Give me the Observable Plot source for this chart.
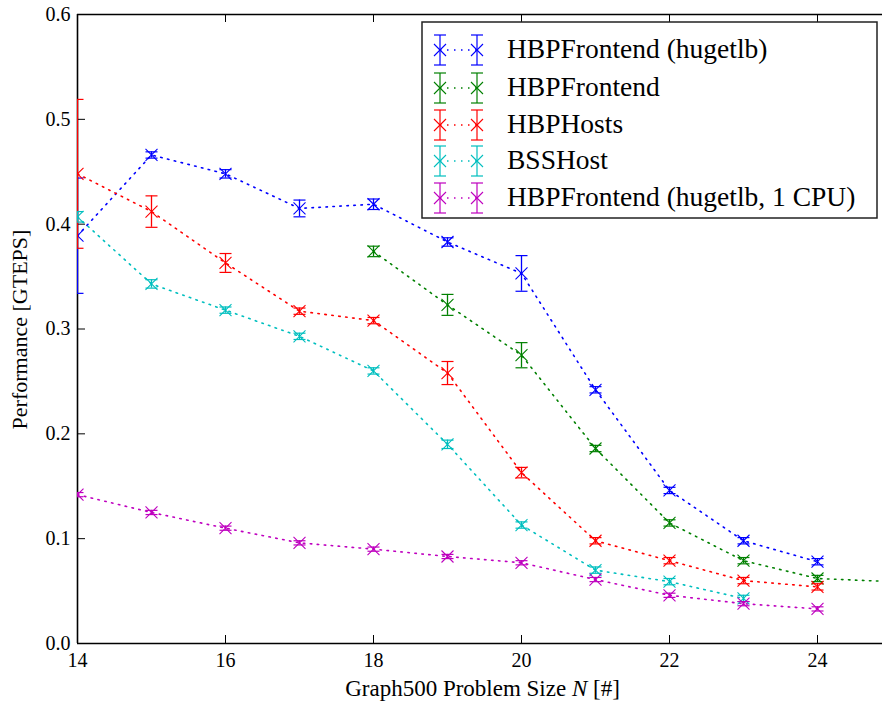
<!DOCTYPE html>
<html><head><meta charset="utf-8">
<script src="https://cdn.jsdelivr.net/npm/d3@7"></script>
<script src="https://cdn.jsdelivr.net/npm/@observablehq/plot@0.6"></script>
<style>body{margin:0;background:#fff} svg{font-family:"Liberation Serif","DejaVu Serif",serif}</style>
</head><body><div id="chart"></div>
<script>
const seriesNames = ["HBPFrontend (hugetlb)", "HBPFrontend", "HBPHosts", "BSSHost", "HBPFrontend (hugetlb, 1 CPU)"];
const seriesColors = ["#0000ff", "#008000", "#ff0000", "#00bfbf", "#bf00bf"];
const xTicks = [14, 16, 18, 20, 22, 24];
const yTicks = [0, 0.1, 0.2, 0.3, 0.4, 0.5, 0.6];

const hugetlbX = [14, 15, 16, 17, 18, 19, 20, 21, 22, 23, 24];
const hugetlbY = [0.389, 0.466, 0.448, 0.415, 0.419, 0.383, 0.353, 0.242, 0.146, 0.098, 0.078];
const hugetlbErr = [0.055, 0.003, 0.004, 0.008, 0.005, 0.004, 0.017, 0.003, 0.003, 0.003, 0.003];

const frontendX = [18, 19, 20, 21, 22, 23, 24, 25];
const frontendY = [0.374, 0.323, 0.275, 0.186, 0.115, 0.079, 0.062, 0.059];
const frontendErr = [0.005, 0.010, 0.012, 0.003, 0.003, 0.003, 0.003, 0.002];

const hostsX = [14, 15, 16, 17, 18, 19, 20, 21, 22, 23, 24];
const hostsY = [0.448, 0.412, 0.363, 0.317, 0.308, 0.258, 0.163, 0.098, 0.079, 0.060, 0.054];
const hostsErr = [0.071, 0.015, 0.009, 0.003, 0.003, 0.011, 0.005, 0.003, 0.003, 0.003, 0.003];

const bssX = [14, 15, 16, 17, 18, 19, 20, 21, 22, 23];
const bssY = [0.407, 0.343, 0.318, 0.293, 0.260, 0.190, 0.113, 0.070, 0.059, 0.043];
const bssErr = [0.005, 0.004, 0.003, 0.003, 0.003, 0.004, 0.003, 0.003, 0.003, 0.003];

const cpu1X = [14, 15, 16, 17, 18, 19, 20, 21, 22, 23, 24];
const cpu1Y = [0.142, 0.125, 0.110, 0.096, 0.090, 0.083, 0.077, 0.061, 0.046, 0.038, 0.033];
const cpu1Err = [0.002, 0.002, 0.002, 0.002, 0.002, 0.002, 0.002, 0.002, 0.002, 0.002, 0.002];

const allX = [hugetlbX, frontendX, hostsX, bssX, cpu1X];
const allY = [hugetlbY, frontendY, hostsY, bssY, cpu1Y];
const allErr = [hugetlbErr, frontendErr, hostsErr, bssErr, cpu1Err];

const series = seriesNames.map((name, i) => ({
  name, color: seriesColors[i],
  rows: allX[i].map((x, j) => ({x, y: allY[i][j], err: allErr[i][j]}))
}));

const W = 882, H = 705, mL = 77, mR = 0, mT = 14, mB = 62;
const plotW = W - mL - mR, plotH = H - mT - mB;

const capSym = {draw(ctx) { ctx.moveTo(-6, 0); ctx.lineTo(6, 0); }};
const xSym = {draw(ctx) { const r = 6; ctx.moveTo(-r, -r); ctx.lineTo(r, r); ctx.moveTo(-r, r); ctx.lineTo(r, -r); }};

const marks = [];
for (const s of series) {
  marks.push(Plot.line(s.rows, {x: "x", y: "y", stroke: s.color, strokeWidth: 1.6, strokeDasharray: "1.5,5.5", clip: true}));
}
for (const s of series) {
  marks.push(Plot.ruleX(s.rows, {x: "x", y1: d => d.y - d.err, y2: d => d.y + d.err, stroke: s.color, strokeWidth: 1.3, clip: true}));
  marks.push(Plot.dot(s.rows, {x: "x", y: d => d.y + d.err, symbol: capSym, stroke: s.color, strokeWidth: 1.2, clip: true}));
  marks.push(Plot.dot(s.rows, {x: "x", y: d => d.y - d.err, symbol: capSym, stroke: s.color, strokeWidth: 1.2, clip: true}));
  marks.push(Plot.dot(s.rows, {x: "x", y: "y", symbol: xSym, stroke: s.color, strokeWidth: 1.1, clip: true}));
}

const chart = Plot.plot({
  width: W, height: H,
  marginLeft: mL, marginRight: mR, marginTop: mT, marginBottom: mB,
  x: {domain: [14, 14 + plotW / 74], axis: null},
  y: {domain: [0, 0.6], axis: null},
  style: {fontFamily: "Liberation Serif, DejaVu Serif, serif", background: "#fff"},
  marks: [
    Plot.ruleX([14], {stroke: "#000", strokeWidth: 1.6}),
    Plot.ruleY([0, 0.6], {stroke: "#000", strokeWidth: 1.6}),
    Plot.tickX(xTicks, {x: d => d, insetTop: plotH - 8, stroke: "#000", strokeWidth: 1}),
    Plot.tickX(xTicks, {x: d => d, insetBottom: plotH - 8, stroke: "#000", strokeWidth: 1}),
    Plot.tickY(yTicks, {y: d => d, insetRight: plotW - 8, stroke: "#000", strokeWidth: 1}),
    ...marks,
    Plot.axisX(xTicks, {tickSize: 0, tickPadding: 9, fontSize: 20, tickFormat: d => String(d), label: null, fill: "#000"}),
    Plot.axisY(yTicks, {tickSize: 0, tickPadding: 7, fontSize: 20, tickFormat: d => d.toFixed(1), label: null, fill: "#000"})
  ]
});

document.getElementById("chart").appendChild(chart);
const svg = d3.select(chart);

// axis labels
const xl = svg.append("text").attr("x", mL + plotW / 2 + 3).attr("y", 696).attr("text-anchor", "middle")
  .attr("font-size", 23).attr("fill", "#000");
xl.append("tspan").text("Graph500 Problem Size ");
xl.append("tspan").attr("font-style", "italic").text("N");
xl.append("tspan").text(" [#]");

svg.append("text").attr("transform", `translate(27,${mT + plotH / 2 + 1}) rotate(-90)`).attr("text-anchor", "middle")
  .attr("font-size", 22).attr("fill", "#000").text("Performance [GTEPS]");

// legend
const lg = svg.append("g");
lg.append("rect").attr("x", 422).attr("y", 22).attr("width", 455).attr("height", 196)
  .attr("fill", "#fff").attr("stroke", "#222").attr("stroke-width", 1.5);
const rowY = [50, 88, 125, 161, 198];
series.forEach((s, i) => {
  const cy = rowY[i];
  const g = lg.append("g").attr("stroke", s.color).attr("fill", "none");
  g.append("line").attr("x1", 440).attr("x2", 477).attr("y1", cy).attr("y2", cy)
    .attr("stroke-width", 1.6).attr("stroke-dasharray", "1.5,5.5");
  for (const mx of [440, 477]) {
    g.append("line").attr("x1", mx).attr("x2", mx).attr("y1", cy - 15).attr("y2", cy + 15).attr("stroke-width", 1.2);
    g.append("line").attr("x1", mx - 6).attr("x2", mx + 6).attr("y1", cy - 15).attr("y2", cy - 15).attr("stroke-width", 1.2);
    g.append("line").attr("x1", mx - 6).attr("x2", mx + 6).attr("y1", cy + 15).attr("y2", cy + 15).attr("stroke-width", 1.2);
    g.append("path").attr("d", `M${mx - 6},${cy - 6}L${mx + 6},${cy + 6}M${mx - 6},${cy + 6}L${mx + 6},${cy - 6}`).attr("stroke-width", 1.1);
  }
  lg.append("text").attr("x", 507).attr("y", cy + 8).attr("text-anchor", "start")
    .attr("font-size", 27.5).attr("fill", "#000").text(s.name);
});
</script></body></html>
